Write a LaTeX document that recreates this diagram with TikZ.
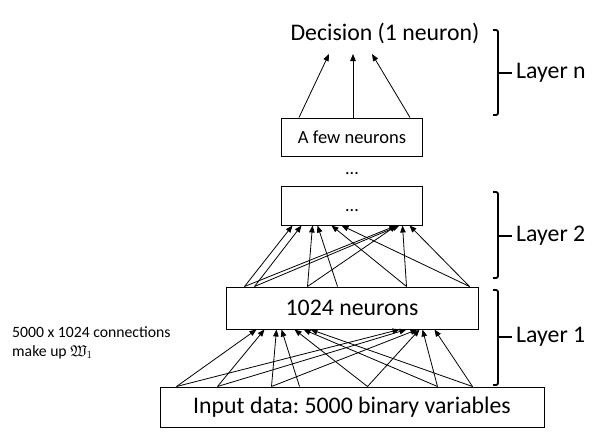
\documentclass[tikz,border=0pt]{standalone}
\usepackage{amssymb}
\usepackage{fontspec}
\setmainfont{Carlito}
\usetikzlibrary{arrows.meta}
\tikzset{
  box/.style={draw, line width=1pt, inner sep=0pt, align=center},
  bigtxt/.style={font=\fontsize{23.8}{28}\selectfont},
  arr/.style={line width=0.8pt, -{Triangle[length=7pt,width=5.5pt]}},
  brace/.style={line width=1.8pt, rounded corners=2pt},
  lbl/.style={anchor=west, inner sep=0pt, font=\fontsize{23.8}{28}\selectfont}
}
\begin{document}
\begin{tikzpicture}[x=1pt,y=-1pt]
\useasboundingbox (0,0) rectangle (602,442);
% boxes
\node[box, bigtxt, minimum width=384pt, minimum height=40pt] (inp) at (352,407) {Input data:\ 5000 binary variables};
\node[box, bigtxt, minimum width=252pt, minimum height=42pt] (l1) at (352,308) {1024 neurons};
\node[box, bigtxt, minimum width=141pt, minimum height=39pt] (l2) at (351.5,205.5) {};
\node[inner sep=0pt, font=\fontsize{18}{20}\selectfont] (l2dots) at (352,211) {...};
\node[inner sep=0pt, font=\fontsize{18}{20}\selectfont] (mdots) at (352,174) {...};
\node[box, font=\fontsize{18.5}{22}\selectfont, minimum width=141pt, minimum height=38pt] (few) at (352,137) {A few neurons};
\node[inner sep=0pt, bigtxt] (dec) at (385,33) {Decision (1 neuron)};
\coordinate (dtop) at (385,54);
% left note
\node[anchor=west, inner sep=0pt, align=left, font=\fontsize{15.7}{19}\selectfont] (note) at (12,342.5) {5000 x 1024 connections\\make up $\mathfrak{W}_1$};
% input -> layer 1
\foreach \s/\e in {17/31, 17/174, 58/39, 58/181, 112/51, 112/192, 140/56, 208/69, 208/194, 278/78, 278/197, 313/85, 313/209}
  \draw[arr] ([xshift=\s pt]inp.north west) -- ([xshift=\e pt]l1.south west);
% layer 1 -> layer 2
\foreach \s/\e in {19/12, 19/116, 29/21, 29/119, 82/32, 82/116, 112/37, 181/51, 181/122, 244/61, 244/129}
  \draw[arr] ([xshift=\s pt]l1.north west) -- ([xshift=\e pt]l2.south west);
% few -> decision
\foreach \s/\e in {18/-56, 72/-32, 129/-13}
  \draw[arr] ([xshift=\s pt]few.north west) -- ([xshift=\e pt]dtop);
% braces
\draw[brace] (493,30) -- (498,30) -- (498,115) -- (493,115);
\draw[line width=1.8pt] (498,73) -- (512,73);
\node[lbl] (ln) at (516,73) {Layer n};
\draw[brace] (493,192) -- (498,192) -- (498,278) -- (493,278);
\draw[line width=1.8pt] (498,236) -- (512,236);
\node[lbl] (lt) at (516,236) {Layer 2};
\draw[brace] (493,290) -- (498,290) -- (498,385) -- (493,385);
\draw[line width=1.8pt] (498,337) -- (512,337);
\node[lbl] (lo) at (516,337) {Layer 1};
\end{tikzpicture}
\end{document}
